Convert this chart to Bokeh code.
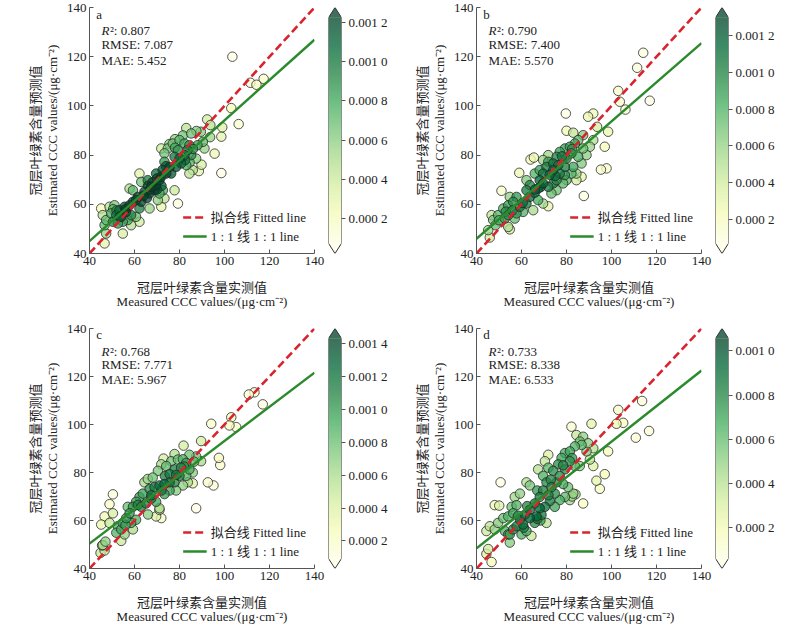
import numpy as np
from bokeh.plotting import figure
from bokeh.models import (LinearAxis, FixedTicker, Legend, LegendItem, ColumnDataSource,
                          LinearColorMapper, Range1d)
from bokeh.layouts import row, column
from bokeh.palettes import YlGn9, interp_palette
from bokeh.transform import transform
from bokeh.core.properties import value
from bokeh.embed import file_html
from bokeh.resources import INLINE

# ---------------- data ----------------
PANELS = ["a", "b", "c", "d"]

A_meas = [103.5,111.5,114.2,117.4,103.0,106.3,99.0,98.6,95.6,98.6,89.8,88.6,92.3,93.7,93.6,83.0,87.5,89.5,85.2,90.4,91.1,85.9,83.0,84.4,80.0,82.2,84.4,77.0,79.3,74.8,73.3,71.9,77.8,80.0,82.2,85.2,87.4,80.7,78.5,75.6,76.3,73.3,74.1,71.9,69.6,71.1,69.6,67.4,65.9,62.2,63.0,64.4,66.7,68.9,71.1,70.4,72.6,73.3,77.8,79.3,71.9,66.7,57.8,59.3,61.5,60.7,63.0,59.3,57.8,55.6,53.3,56.3,58.5,62.2,60.7,54.1,51.9,49.6,48.9,51.1,45.9,45.2,47.4,46.7,50.4,52.6,54.8,57.0,58.5,62.2,54.8,47.4,46.7,
          64.0,65.5,67.0,68.0,78.0,74.0,72.5,56.0,66.0,70.0,83.5,75.5,78.0,81.5,52.0,53.5,50.5,70.0,72.0,82.5,84.5,86.0,88.0]
A_est = [120.0,109.4,108.6,111.0,99.1,92.6,91.3,87.5,80.6,72.7,76.1,73.5,94.5,92.2,87.3,91.0,89.8,89.5,88.8,85.4,82.7,73.9,75.9,72.5,86.1,84.7,84.0,84.7,82.0,82.7,80.7,82.7,79.3,78.6,80.0,80.0,78.6,76.6,75.2,75.2,72.5,77.3,72.5,71.2,72.5,69.8,67.8,67.1,69.8,72.5,69.1,65.1,64.4,65.7,64.4,61.7,65.7,62.4,65.7,60.3,59.0,58.3,66.4,65.7,63.0,61.7,61.0,61.0,59.6,59.0,57.6,56.9,55.6,58.3,54.9,54.9,55.6,56.3,59.0,59.6,55.6,58.3,53.6,51.5,52.9,52.2,52.9,53.6,51.5,52.9,48.1,48.1,44.1,
         63.5,62.5,66.0,69.0,83.0,75.5,74.0,58.0,67.5,70.5,82.0,84.5,86.5,88.0,57.5,55.0,58.0,66.0,67.5,78.0,77.0,82.5,84.0]

B_meas = [114.1,111.4,117.0,103.0,103.7,106.2,79.7,89.6,91.9,93.6,98.5,80.0,83.0,87.4,91.9,97.0,97.8,95.3,87.7,64.0,65.5,59.0,51.1,71.9,54.8,54.1,45.9,45.2,47.4,49.6,46.7,51.9,54.1,56.3,59.3,60.7,62.2,63.7,65.9,67.4,62.2,63.7,68.1,69.6,71.1,71.9,74.1,75.6,77.0,79.3,81.5,83.7,85.2,69.6,71.9,74.1,73.3,75.6,78.5,80.0,82.2,84.4,77.0,79.3,83.0,86.7,88.9,85.2,87.4,90.4,67.4,69.6,65.2,57.8,54.8,57.0,57.8,52.6,54.1,62.2,65.9,68.1,74.1,76.3,80.0,82.2,86.7,84.4,75.6,79.3,69.6,71.9,
          72.5,66.0,60.5,56.0,78.0,82.5,53.0,50.0,48.5,68.5,75.0]
B_est = [121.6,115.5,102.1,106.1,101.7,98.5,96.9,95.6,96.9,91.5,89.5,89.9,89.1,88.1,86.1,83.4,74.6,74.1,63.4,78.2,79.0,72.8,65.5,59.2,49.8,50.8,46.5,49.5,53.6,55.6,55.6,58.3,59.6,61.0,59.0,56.9,60.3,63.0,64.7,66.4,69.8,67.8,69.8,72.5,75.2,77.3,76.6,79.3,81.3,82.7,83.4,84.7,86.1,68.5,67.1,68.5,64.4,65.7,68.5,69.8,72.5,72.5,72.5,75.2,75.2,76.6,80.0,79.3,82.7,83.4,61.7,60.3,57.6,63.0,63.0,54.2,56.3,54.2,55.6,65.7,72.5,73.9,73.9,75.9,78.6,80.7,71.2,69.8,69.8,71.9,78.0,80.0,
         72.0,66.0,60.5,57.5,79.5,82.5,57.0,53.5,51.5,67.0,71.5]

C_meas = [110.8,113.3,117.0,103.0,102.2,105.2,94.1,81.8,89.6,77.8,72.9,97.5,98.1,92.6,95.1,87.4,85.9,50.4,48.9,46.7,45.2,48.9,50.4,45.9,46.7,54.1,55.6,71.1,69.6,71.9,65.9,64.4,68.1,70.4,71.9,74.1,76.3,79.3,84.4,87.4,89.6,83.0,80.7,77.8,75.6,84.4,83.0,85.9,80.0,77.8,75.6,73.3,71.1,68.9,66.7,63.7,62.2,60.7,59.3,57.0,63.0,65.2,67.4,57.8,56.3,54.8,52.6,54.1,51.9,58.5,60.7,59.3,69.6,71.1,78.5,81.5,83.7,73.3,75.6,
          45.6,47.1,44.9,66.0,72.0,78.5,82.0,81.5,67.5,61.5,56.0,86.5,73.5]
C_est = [112.5,113.4,108.4,103.0,99.6,98.9,100.3,91.2,93.1,87.7,85.8,86.1,83.1,75.9,74.6,65.1,75.5,70.9,66.8,61.7,58.3,59.0,63.0,49.8,47.5,51.5,54.2,64.4,61.7,61.0,77.3,75.9,77.9,80.7,83.4,82.7,84.7,85.4,87.4,86.7,84.7,84.0,82.0,81.3,79.3,81.3,78.6,80.0,78.6,75.9,75.9,75.2,74.6,73.9,73.2,71.2,69.8,67.8,65.7,65.7,65.7,67.1,69.1,63.0,61.0,59.0,57.6,56.3,54.9,59.0,60.3,56.3,67.8,65.1,72.5,74.6,75.9,71.0,72.5,
         49.6,51.2,46.5,62.5,72.5,79.0,82.5,85.5,70.5,66.5,58.0,84.5,78.5]

D_meas = [113.6,103.0,105.2,102.2,110.8,116.7,82.2,91.1,98.5,91.9,89.6,97.0,93.3,94.8,87.4,50.7,48.1,50.1,71.1,45.9,44.4,48.1,45.2,46.7,44.4,54.1,54.8,49.6,51.9,54.1,56.3,55.6,57.8,57.0,59.3,62.2,63.7,67.4,69.6,71.9,74.1,71.1,76.3,77.8,79.3,81.5,83.7,85.9,84.4,87.4,86.7,88.9,90.4,91.9,81.5,83.7,85.9,79.3,77.0,75.6,78.5,80.7,83.0,79.3,77.0,74.8,73.3,69.6,68.1,65.9,68.1,70.4,63.7,61.5,63.7,66.7,68.9,65.9,59.3,60.7,57.8,62.2,64.4,60.0,56.3,54.8,52.6,72.6,74.8,70.4,71.9,
          84.0,82.5,81.5,67.0,68.4,73.0,78.5,82.5,67.0,62.5,58.5,72.0,61.0]
D_est = [109.8,106.1,100.7,100.3,94.5,97.3,99.1,100.3,88.8,90.1,92.2,79.3,76.6,73.2,67.1,75.9,66.4,66.2,59.0,57.6,55.6,56.3,48.1,42.7,46.1,54.2,50.8,59.0,61.0,61.7,63.0,65.7,66.4,69.8,71.2,75.9,74.6,81.3,78.6,82.0,80.7,75.9,83.4,86.1,88.1,88.8,90.9,92.9,95.6,94.9,91.5,88.8,85.4,82.7,84.7,82.7,82.7,81.3,78.6,75.9,75.2,73.9,71.2,69.8,68.5,71.2,73.9,72.5,69.8,67.1,65.1,65.7,64.4,62.4,61.0,61.7,62.4,59.0,60.3,58.3,57.6,55.6,53.6,54.2,56.3,54.2,55.6,68.1,65.7,84.7,87.4,
         70.9,70.0,68.5,60.7,60.0,77.0,83.0,86.0,72.5,66.0,62.0,70.5,57.0]

MEAS = [A_meas, B_meas, C_meas, D_meas]
EST = [A_est, B_est, C_est, D_est]

# regression line (estimated value at x = 40 and x = 140)
LINE_X = [40, 140]
FIT_Y = [[45.0, 126.9], [46.0, 125.5], [50.4, 121.6], [48.4, 122.5]]
ONE_Y = [40, 140]

R2 = ["0.807", "0.790", "0.768", "0.733"]
RMSE = ["7.087", "7.400", "7.771", "8.338"]
MAE = ["5.452", "5.570", "5.967", "6.533"]

# colour bar ranges (density) and ticks
CB_LOW = [0.000072, 0.000069, 0.000093, 0.000059]
CB_HIGH = [0.001226, 0.0013, 0.00143, 0.001057]
CB_TICKS = [[0.0002, 0.0004, 0.0006, 0.0008, 0.0010, 0.0012],
            [0.0002, 0.0004, 0.0006, 0.0008, 0.0010, 0.0012],
            [0.0002, 0.0004, 0.0006, 0.0008, 0.0010, 0.0012, 0.0014],
            [0.0002, 0.0004, 0.0006, 0.0008, 0.0010]]

AXIS_TICKS = [40, 60, 80, 100, 120, 140]

X_LABEL_CN = "冠层叶绿素含量实测值"
X_LABEL_EN = "Measured CCC values/(μg·cm⁻²)"
Y_LABEL_CN = "冠层叶绿素含量预测值"
Y_LABEL_EN = "Estimated CCC values/(μg·cm⁻²)"
LEG_FIT = "拟合线 Fitted line"
LEG_ONE = "1 : 1 线 1 : 1 line"

# ---------------- style ----------------
FONT = "Liberation Serif, Noto Sans CJK SC"
TXT = "#222222"
AX = "#555555"
RED = "#d9232d"
GREEN = "#2b8a2b"
ALPHA = 0.76
PAL = interp_palette(YlGn9[::-1], 256)

# per-panel geometry (pixels)
FRAME_H = [246, 246, 245, 245]
TOP_B = [7, 7, 13, 13]
BOT_B = [62, 62, 53, 53]
LEFT_B = [89, 80, 89, 80]
RIGHT_B = 12
FRAME_W = 225


def kde(x, y):
    d = np.vstack([x, y])
    n = d.shape[1]
    f = n ** (-1.0 / 6.0)
    cov = np.cov(d) * f * f
    inv = np.linalg.inv(cov)
    norm = 1.0 / (2 * np.pi * np.sqrt(np.linalg.det(cov)))
    dx = d[0][:, None] - d[0][None, :]
    dy = d[1][:, None] - d[1][None, :]
    q = inv[0, 0] * dx * dx + 2 * inv[0, 1] * dx * dy + inv[1, 1] * dy * dy
    return np.exp(-0.5 * q).mean(axis=1) * norm


def cb_label(t):
    s = f"{t:.4f}"
    return s[:5] + " " + s[5:]


def style_axis(ax):
    ax.axis_line_color = AX
    ax.major_tick_line_color = AX
    ax.minor_tick_line_color = None
    ax.major_label_text_font = FONT
    ax.major_label_text_font_size = "13px"
    ax.major_label_text_color = TXT
    ax.axis_label_text_font = FONT
    ax.axis_label_text_font_size = "13px"
    ax.axis_label_text_font_style = "normal"
    ax.axis_label_text_color = TXT


def label_axis(text, standoff):
    ax = LinearAxis(axis_label=text, ticker=FixedTicker(ticks=[]))
    style_axis(ax)
    ax.axis_line_color = None
    ax.major_tick_line_color = None
    ax.major_label_text_font_size = "0px"
    ax.major_label_standoff = 0
    ax.axis_label_standoff = standoff
    return ax


def make_panel(i):
    x = np.array(MEAS[i], dtype=float)
    y = np.array(EST[i], dtype=float)
    dens = kde(x, y)
    order = np.argsort(dens)
    src = ColumnDataSource(dict(x=x[order], y=y[order], d=dens[order]))
    mapper = LinearColorMapper(palette=PAL, low=CB_LOW[i], high=CB_HIGH[i])
    h = TOP_B[i] + FRAME_H[i] + BOT_B[i]

    p = figure(width=LEFT_B[i] + FRAME_W + RIGHT_B, height=h,
               x_range=Range1d(40, 140), y_range=Range1d(40, 140),
               output_backend="svg", toolbar_location=None,
               min_border_left=LEFT_B[i], min_border_right=RIGHT_B,
               min_border_top=TOP_B[i], min_border_bottom=BOT_B[i])
    p.grid.visible = False
    p.outline_line_color = None
    p.background_fill_color = "white"
    p.border_fill_color = "white"

    for ax in (p.xaxis[0], p.yaxis[0]):
        style_axis(ax)
        ax.ticker = FixedTicker(ticks=AXIS_TICKS)
        ax.major_tick_in = 4
        ax.major_tick_out = 0
        ax.major_label_standoff = 3
    p.xaxis[0].axis_label = X_LABEL_CN
    p.xaxis[0].axis_label_standoff = 12
    p.yaxis[0].axis_label = Y_LABEL_EN
    p.yaxis[0].axis_label_standoff = 4
    p.add_layout(label_axis(X_LABEL_EN, -4), "below")
    p.add_layout(label_axis(Y_LABEL_CN, -1), "left")

    p.scatter("x", "y", source=src, size=9.5, marker="circle",
              fill_color=transform("d", mapper), fill_alpha=ALPHA,
              line_color="#222222", line_width=0.9, line_alpha=0.85)

    red = p.line(LINE_X, ONE_Y, line_color=RED, line_width=2.6, line_dash="8 4")
    green = p.line(LINE_X, FIT_Y[i], line_color=GREEN, line_width=2.4)

    legend = Legend(items=[LegendItem(label=LEG_FIT, renderers=[red]),
                           LegendItem(label=LEG_ONE, renderers=[green])],
                    location="bottom_right", border_line_color=None,
                    background_fill_alpha=0, label_text_font=FONT,
                    label_text_font_size="13px", label_text_color=TXT,
                    label_text_line_height=0.9,
                    glyph_width=24, glyph_height=12, label_height=12,
                    label_standoff=4, spacing=-7, padding=3, margin=8)
    p.add_layout(legend)

    tf = value(FONT)
    p.text(x=[43.0], y=[137.3], text=[PANELS[i]], text_font=tf, text_font_size="13px",
           text_color=TXT, text_baseline="middle")
    p.text(x=[45.3], y=[130.5], text=["R"], text_font=tf, text_font_size="13px",
           text_font_style="italic", text_color=TXT, text_baseline="middle")
    p.text(x=[45.3], y=[130.5], text=["²: " + R2[i]], x_offset=8.5, text_font=tf,
           text_font_size="13px", text_color=TXT, text_baseline="middle")
    p.text(x=[45.3, 45.3], y=[125.1, 118.6], text=["RMSE: " + RMSE[i], "MAE: " + MAE[i]],
           text_font=tf, text_font_size="13px", text_color=TXT, text_baseline="middle")

    # colour bar
    lo, hi = CB_LOW[i], CB_HIGH[i]
    tri = 0.045 * (hi - lo)
    cb = figure(width=2 + 13 + 55, height=h,
                x_range=Range1d(0, 1), y_range=Range1d(lo - tri, hi + tri),
                x_axis_location=None, y_axis_location="right",
                output_backend="svg", toolbar_location=None,
                min_border_left=2, min_border_right=55,
                min_border_top=TOP_B[i], min_border_bottom=BOT_B[i])
    cb.grid.visible = False
    cb.outline_line_color = None
    grad = np.linspace(lo, hi, 256).reshape(256, 1)
    cb.image(image=[grad], x=0, y=lo, dw=1, dh=hi - lo, color_mapper=mapper,
             global_alpha=ALPHA)
    cb.patch([0, 1, 0.5], [hi, hi, hi + tri], fill_color=PAL[-1], fill_alpha=ALPHA,
             line_color=None)
    cb.patch([0, 1, 0.5], [lo, lo, lo - tri], fill_color=PAL[0], fill_alpha=ALPHA,
             line_color=None)
    cb.line([0, 0.5, 1, 1, 0.5, 0, 0], [lo, lo - tri, lo, hi, hi + tri, hi, lo],
            line_color="#333333", line_width=1)
    yax = cb.yaxis[0]
    style_axis(yax)
    yax.axis_line_color = None
    yax.ticker = FixedTicker(ticks=CB_TICKS[i])
    yax.major_label_overrides = {t: cb_label(t) for t in CB_TICKS[i]}
    yax.major_tick_in = 0
    yax.major_tick_out = 4
    yax.major_label_standoff = 3
    return p, cb


figs = [make_panel(i) for i in range(4)]
layout = column(row(figs[0][0], figs[0][1], figs[1][0], figs[1][1]),
                row(figs[2][0], figs[2][1], figs[3][0], figs[3][1]))

open("out.html", "w").write(file_html(layout, INLINE))
